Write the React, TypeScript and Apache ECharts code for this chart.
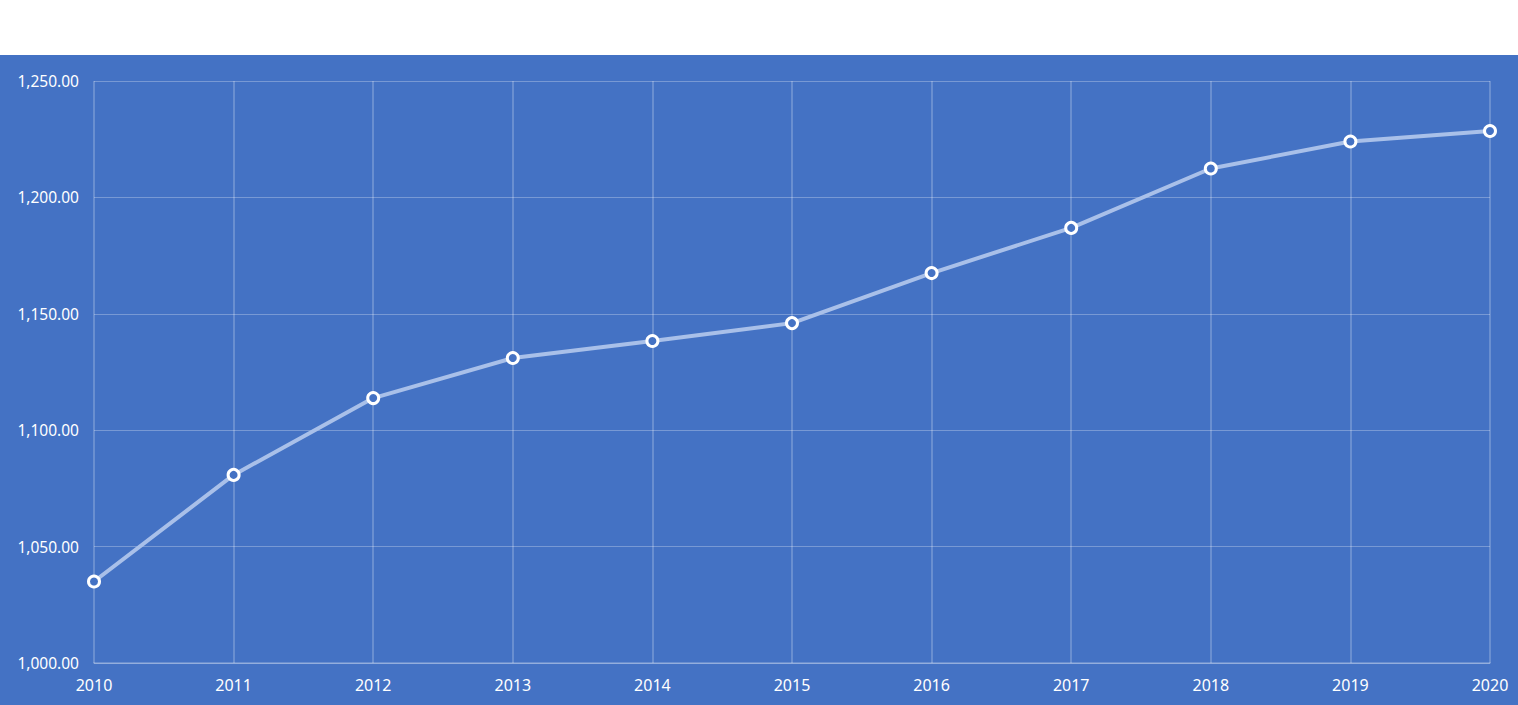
import React, { useEffect, useRef } from "react";
import * as echarts from "echarts";

const years = ["2010", "2011", "2012", "2013", "2014", "2015", "2016", "2017", "2018", "2019", "2020"];
const values = [1035, 1080.8, 1113.8, 1131, 1138.3, 1146, 1167.5, 1186.9, 1212.4, 1224, 1228.5];
const yMin = 1000;
const yMax = 1250;
const yInterval = 50;

export default function App() {
  const ref = useRef<HTMLDivElement>(null);
  useEffect(() => {
    if (!ref.current) return;
    const chart = echarts.init(ref.current, undefined, { renderer: "svg" });
    const gridColor = "rgba(255,255,255,0.28)";
    chart.setOption({
      animation: false,
      backgroundColor: "#4472C4",
      textStyle: { fontFamily: "Noto Sans" },
      grid: { left: 94, right: 28, top: 26, bottom: 42, containLabel: false },
      xAxis: {
        type: "category",
        data: years,
        boundaryGap: false,
        axisLine: { show: true, lineStyle: { color: gridColor, width: 1.5 } },
        axisTick: { show: false },
        axisLabel: { color: "#ffffff", fontSize: 16, margin: 14, fontFamily: "Noto Sans" },
        splitLine: { show: true, lineStyle: { color: gridColor, width: 1.5 } },
      },
      yAxis: {
        type: "value",
        min: yMin,
        max: yMax,
        interval: yInterval,
        axisLine: { show: false },
        axisTick: { show: false },
        axisLabel: {
          color: "#ffffff",
          fontSize: 15.5,
          margin: 15,
          fontFamily: "Noto Sans",
          formatter: (v: number) =>
            v.toLocaleString("en-US", { minimumFractionDigits: 2, maximumFractionDigits: 2 }),
        },
        splitLine: { show: true, lineStyle: { color: gridColor, width: 1 } },
      },
      series: [
        {
          type: "line",
          data: values,
          symbol: "circle",
          symbolSize: 11,
          lineStyle: { color: "#A9C0E9", width: 4 },
          itemStyle: { color: "#4472C4", borderColor: "#ffffff", borderWidth: 3 },
          z: 3,
        },
      ],
    });
    return () => chart.dispose();
  }, []);
  return (
    <div style={{ position: "absolute", left: 0, top: 0, width: 1518, height: 705, background: "#ffffff" }}>
      <div ref={ref} style={{ position: "absolute", left: 0, top: 55, width: 1518, height: 650 }} />
    </div>
  );
}
